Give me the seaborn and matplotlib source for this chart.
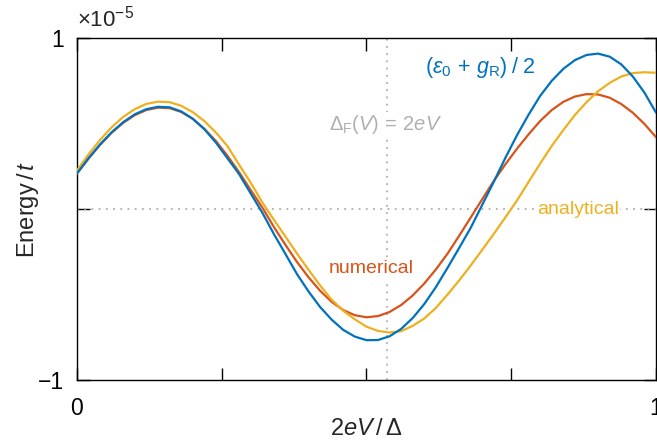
# plot.py
import pandas as pd
import seaborn as sns
import matplotlib
matplotlib.use("Agg")
import matplotlib.pyplot as plt

# Energies, in units of 1e-5 t, on a 2eV/Delta grid
bias = [0.00, 0.02, 0.04, 0.06, 0.08, 0.10, 0.12, 0.14, 0.16, 0.18,
        0.20, 0.22, 0.24, 0.26, 0.28, 0.30, 0.32, 0.34, 0.36, 0.38,
        0.40, 0.42, 0.44, 0.46, 0.48, 0.50, 0.52, 0.54, 0.56, 0.58,
        0.60, 0.62, 0.64, 0.66, 0.68, 0.70, 0.72, 0.74, 0.76, 0.78,
        0.80, 0.82, 0.84, 0.86, 0.88, 0.90, 0.92, 0.94, 0.96, 0.98, 1.00]
half_sum = [0.208, 0.297, 0.378, 0.449, 0.508, 0.554, 0.584, 0.598, 0.595, 0.571,
            0.528, 0.467, 0.389, 0.297, 0.205, 0.092, -0.020, -0.145, -0.262, -0.380,
            -0.482, -0.573, -0.647, -0.707, -0.746, -0.767, -0.766, -0.744, -0.701, -0.637,
            -0.555, -0.456, -0.344, -0.228, -0.110, 0.025, 0.160, 0.300, 0.432, 0.552,
            0.662, 0.750, 0.820, 0.871, 0.901, 0.909, 0.891, 0.846, 0.775, 0.681, 0.564]
numerical = [0.206, 0.294, 0.375, 0.446, 0.504, 0.549, 0.579, 0.593, 0.590, 0.568,
             0.528, 0.470, 0.398, 0.312, 0.216, 0.112, 0.010, -0.104, -0.209, -0.309,
             -0.399, -0.478, -0.543, -0.591, -0.621, -0.633, -0.626, -0.602, -0.561, -0.505,
             -0.435, -0.353, -0.261, -0.157, -0.050, 0.058, 0.165, 0.262, 0.353, 0.437,
             0.515, 0.579, 0.627, 0.658, 0.672, 0.670, 0.651, 0.614, 0.563, 0.498, 0.420]
analytical = [0.225, 0.319, 0.404, 0.478, 0.539, 0.584, 0.615, 0.628, 0.625, 0.604,
              0.567, 0.515, 0.448, 0.368, 0.260, 0.155, 0.040, -0.062, -0.160, -0.260,
              -0.355, -0.447, -0.530, -0.595, -0.645, -0.688, -0.713, -0.722, -0.714, -0.683,
              -0.640, -0.578, -0.500, -0.418, -0.330, -0.238, -0.145, -0.048, 0.050, 0.159,
              0.266, 0.369, 0.462, 0.550, 0.625, 0.689, 0.738, 0.775, 0.795, 0.800, 0.797]

# 2eV/Delta where Delta_F(V) = 2eV
crossing = 0.535

x_ticks = [0, 0.25, 0.5, 0.75, 1]
x_tick_labels = ["0", "", "", "", "1"]
y_ticks = [-1, 0, 1]
y_tick_labels = ["\u22121", "", "1"]

blue = "#0072BD"
orange = "#D95319"
yellow = "#EDB120"
gray = "#AFAFAF"

sns.set_theme(style="white")
plt.rcParams["font.family"] = ["Liberation Sans", "DejaVu Sans"]
plt.rcParams["mathtext.fontset"] = "custom"
plt.rcParams["mathtext.rm"] = "Liberation Sans"
plt.rcParams["mathtext.it"] = "Liberation Sans:italic"
plt.rcParams["mathtext.sf"] = "Liberation Sans"

df = pd.DataFrame({"bias": bias, "half_sum": half_sum,
                   "numerical": numerical, "analytical": analytical})

fig = plt.figure(figsize=(6.57, 4.45), dpi=100)
ax = fig.add_axes([0.117, 0.146, 0.8815, 0.7685])

# dotted reference lines
ax.axhline(0, color=gray, lw=1.3, ls=(0, (1, 3)), zorder=1)
ax.axvline(crossing, color=gray, lw=1.3, ls=(0, (1, 3)), zorder=1)

sns.lineplot(data=df, x="bias", y="numerical", color=orange, lw=1.6, ax=ax, zorder=3)
sns.lineplot(data=df, x="bias", y="analytical", color=yellow, lw=1.6, ax=ax, zorder=3)
sns.lineplot(data=df, x="bias", y="half_sum", color=blue, lw=1.6, ax=ax, zorder=3)

box = dict(facecolor="white", edgecolor="none", pad=1)
ax.text(0.696, 0.83, r"$(\epsilon_0\, +\, g_{\mathrm{R}})\;/\;2$", color=blue,
        fontsize=15.5, ha="center", va="center", bbox=box, zorder=2)
ax.text(0.533, 0.494, r"$\Delta_{\mathrm{F}}(V)\, =\, 2eV$", color=gray,
        fontsize=14.5, ha="center", va="center", bbox=box, zorder=2)
ax.text(0.508, -0.35, "numerical", color=orange,
        fontsize=14, ha="center", va="center", bbox=box, zorder=2)
ax.text(0.865, 0.0, "analytical", color=yellow,
        fontsize=14, ha="center", va="center", bbox=box, zorder=2)

ax.set_xlim(0, 1)
ax.set_ylim(-1, 1)
ax.set_xticks(x_ticks)
ax.set_xticklabels(x_tick_labels)
ax.set_yticks(y_ticks)
ax.set_yticklabels(y_tick_labels)
ax.tick_params(direction="in", length=9, width=1, bottom=True, left=True,
               top=True, right=True, labelsize=16.5, colors="black")
ax.tick_params(axis="x", pad=12)
ax.tick_params(axis="y", pad=9)
for s in ax.spines.values():
    s.set_color("black")
    s.set_linewidth(1)

ax.text(0.0, 1.02, r"$\times10^{-5}$", transform=ax.transAxes,
        fontsize=16, ha="left", va="bottom")
ax.set_xlabel(r"$2eV\,/\,\Delta$", fontsize=17, labelpad=-1)
ax.set_ylabel(r"Energy$\,/\,t$", fontsize=17, labelpad=-2)

plt.savefig("out.png", dpi=100)
